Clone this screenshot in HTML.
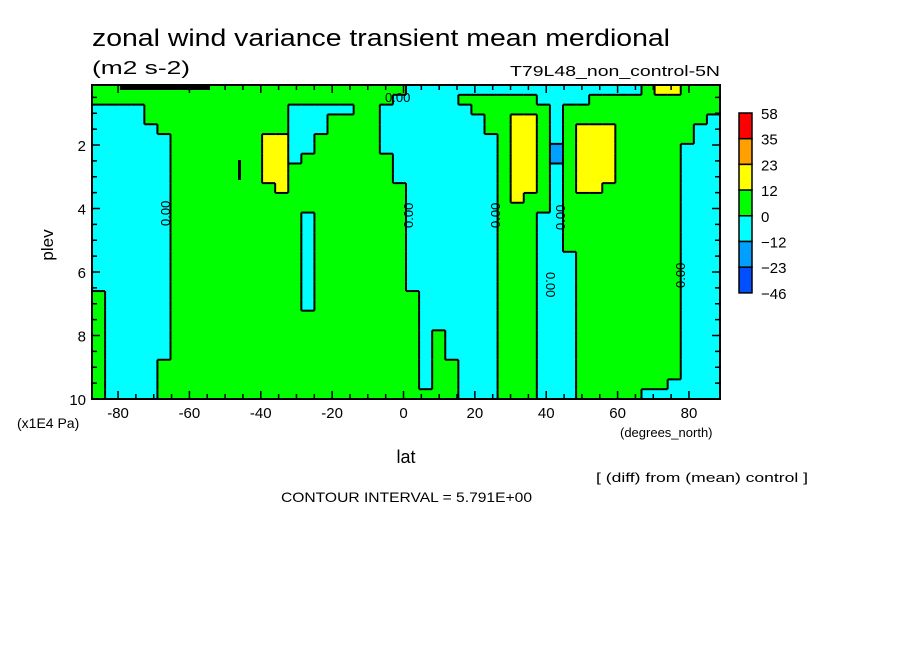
<!DOCTYPE html>
<html><head><meta charset="utf-8"><style>
html,body{margin:0;padding:0;background:#fff;}
svg{display:block;font-family:"Liberation Sans",sans-serif;}
</style></head><body>
<svg id="chart" width="904" height="654" viewBox="0 0 904 654" xmlns="http://www.w3.org/2000/svg">
<rect width="904" height="654" fill="#fff"/>
<text x="92" y="46" font-size="24" textLength="578" lengthAdjust="spacingAndGlyphs">zonal wind variance transient mean merdional</text>
<text x="92" y="74" font-size="18" textLength="98" lengthAdjust="spacingAndGlyphs">(m2 s-2)</text>
<text x="510" y="76" font-size="15" textLength="210" lengthAdjust="spacingAndGlyphs">T79L48_non_control-5N</text>
<g id="cells"></g>
<g id="edges"></g>
<g id="ticks"></g>
<rect x="92" y="85" width="628" height="314" fill="none" stroke="#000" stroke-width="2"/>
<rect x="120" y="86" width="90" height="4" fill="#000"/>
<rect x="238" y="160" width="3" height="20" fill="#000"/>
<g font-size="13">
<text x="385" y="102">0.00</text>
<text x="170" y="226" transform="rotate(-90 170 226)">0.00</text>
<text x="413" y="228" transform="rotate(-90 413 228)">0.00</text>
<text x="500" y="228" transform="rotate(-90 500 228)">0.00</text>
<text x="546" y="272" transform="rotate(90 546 272)">0.00</text>
<text x="565" y="230" transform="rotate(-90 565 230)">0.00</text>
<text x="685" y="288" transform="rotate(-90 685 288)">0.00</text>
</g>
<g id="yticklabels" font-size="15" text-anchor="end"></g>
<g id="xticklabels" font-size="15" text-anchor="middle"></g>
<text x="53" y="245" font-size="17" text-anchor="middle" transform="rotate(-90 53 245)">plev</text>
<text x="17" y="428" font-size="14">(x1E4 Pa)</text>
<text x="406" y="463" font-size="18" text-anchor="middle">lat</text>
<text x="620" y="437" font-size="13">(degrees_north)</text>
<text x="596" y="482" font-size="13" textLength="212" lengthAdjust="spacingAndGlyphs">[ (diff) from (mean) control ]</text>
<text x="281" y="502" font-size="14" textLength="251" lengthAdjust="spacingAndGlyphs">CONTOUR INTERVAL = 5.791E+00</text>
<g id="legend"></g>
</svg>
<script>
// legend levels and colors
const legendLabels = ["58","35","23","12","0","-12","-23","-46"];
const legendColors = ["#ff0000","#ffa000","#ffff00","#00ff00","#00ffff","#00a0ff","#0050ff"];
// category -> color (c: -12..0, g: 0..12, y: 12..23, b: -23..-12)
const categoryColors = {c:"#00ffff", g:"#00ff00", y:"#ffff00", b:"#00a0ff"};
// grid extent (lat, plev)
const latRange = [-87.3, 88.7];
const plevRange = [0.11, 10];
const xTicks = [-80,-60,-40,-20,0,20,40,60,80];
const yTicks = [2,4,6,8,10];
// category grid rows (top = low plev), 48 lat columns
const gridRows = [
"ggggggggggggggggggggggggccccccccccccccccccgyyggg",
"gggggggggggggggggggggggcccccggggggccccgggggggggg",
"ccccgggggggggggcccccggcccccccggggggcgggggggggggg",
"ccccgggggggggggcccggggccccccccggyygcgggggggggggc",
"cccccggggggggggcccggggccccccccggyygcgyyyggggggcc",
"ccccccgggggggyyccgggggcccccccccgyygcgyyyggggggcc",
"ccccccgggggggyyccgggggcccccccccgyygbgyyygggggccc",
"ccccccgggggggyycgggggggccccccccgyygbgyyygggggccc",
"ccccccgggggggyyggggggggccccccccgyygcgyyygggggccc",
"ccccccgggggggyyggggggggccccccccgyygcgyyygggggccc",
"ccccccggggggggygggggggggcccccccgyygcgyyggggggccc",
"ccccccggggggggggggggggggcccccccgyggcgggggggggccc",
"ccccccggggggggggggggggggcccccccggggcgggggggggccc",
"ccccccggggggggggcgggggggcccccccgggccgggggggggccc",
"ccccccggggggggggcgggggggcccccccgggccgggggggggccc",
"ccccccggggggggggcgggggggcccccccgggccgggggggggccc",
"ccccccggggggggggcgggggggcccccccgggccgggggggggccc",
"ccccccggggggggggcgggggggcccccccgggcccggggggggccc",
"ccccccggggggggggcgggggggcccccccgggcccggggggggccc",
"ccccccggggggggggcgggggggcccccccgggcccggggggggccc",
"ccccccggggggggggcgggggggcccccccgggcccggggggggccc",
"gcccccggggggggggcggggggggccccccgggcccggggggggccc",
"gcccccggggggggggcggggggggccccccgggcccggggggggccc",
"gcccccgggggggggggggggggggccccccgggcccggggggggccc",
"gcccccgggggggggggggggggggccccccgggcccggggggggccc",
"gcccccgggggggggggggggggggcgccccgggcccggggggggccc",
"gcccccgggggggggggggggggggcgccccgggcccggggggggccc",
"gcccccgggggggggggggggggggcgccccgggcccggggggggccc",
"gccccggggggggggggggggggggcggcccgggcccggggggggccc",
"gccccggggggggggggggggggggcggcccgggcccggggggggccc",
"gccccggggggggggggggggggggcggcccgggcccgggggggcccc",
"gccccgggggggggggggggggggggggcccgggcccgggggcccccc"
];

const NS="http://www.w3.org/2000/svg";
const X0=92,X1=720,Y0=85,Y1=399;
function xScale(lat){return X0+(lat-latRange[0])/(latRange[1]-latRange[0])*(X1-X0);}
function yScale(p){return Y0+(p-plevRange[0])/(plevRange[1]-plevRange[0])*(Y1-Y0);}
function mk(tag,attrs,parent){const e=document.createElementNS(NS,tag);for(const k in attrs)e.setAttribute(k,attrs[k]);parent.appendChild(e);return e;}

const nRows=gridRows.length, nCols=gridRows[0].length;
const dLat=(latRange[1]-latRange[0])/nCols, dP=(plevRange[1]-plevRange[0])/nRows;
const cells=document.getElementById('cells');
for(let j=0;j<nRows;j++){
  for(let i=0;i<nCols;i++){
    const ch=gridRows[j][i]||'g';
    const xa=xScale(latRange[0]+i*dLat), xb=xScale(latRange[0]+(i+1)*dLat);
    const ya=yScale(plevRange[0]+j*dP), yb=yScale(plevRange[0]+(j+1)*dP);
    const r=mk('rect',{x:xa.toFixed(2),y:ya.toFixed(2),width:(xb-xa+0.6).toFixed(2),height:(yb-ya+0.6).toFixed(2),fill:categoryColors[ch]},cells);
    
    
  }
}
const edges=document.getElementById('edges');
for(let j=0;j<nRows;j++){
  for(let i=0;i<nCols;i++){
    const ch=gridRows[j][i];
    const xa=xScale(latRange[0]+i*dLat), xb=xScale(latRange[0]+(i+1)*dLat);
    const ya=yScale(plevRange[0]+j*dP), yb=yScale(plevRange[0]+(j+1)*dP);
    if(i+1<nCols && gridRows[j][i+1]!==ch){
      const l=mk('line',{x1:xb,y1:ya,x2:xb,y2:yb,stroke:'#000','stroke-width':2},edges);
      
      
    }
    if(j+1<nRows && gridRows[j+1][i]!==ch){
      const l=mk('line',{x1:xa,y1:yb,x2:xb,y2:yb,stroke:'#000','stroke-width':2},edges);
      
      
    }
  }
}
const ticks=document.getElementById('ticks');
const xt=document.getElementById('xticklabels');
for(let lat=-80;lat<=80;lat+=5){
  const x=xScale(lat), big=(lat%20===0);
  const t=mk('line',{x1:x,y1:Y1,x2:x,y2:Y1-(big?8:5),stroke:'#000','stroke-width':1.5},ticks);
  
  
  const t2=mk('line',{x1:x,y1:Y0,x2:x,y2:Y0+(big?8:5),stroke:'#000','stroke-width':1.5},ticks);
  
  
}
xTicks.forEach(v=>{
  const t=mk('text',{x:xScale(v),y:418},xt);
  t.textContent=v;
  
  
});
for(let p=0.5;p<=10;p+=0.5){
  const y=yScale(p), big=(p%2===0);
  const t=mk('line',{x1:X0,y1:y,x2:X0+(big?8:5),y2:y,stroke:'#000','stroke-width':1.5},ticks);
  
  
  const t2=mk('line',{x1:X1,y1:y,x2:X1-(big?8:5),y2:y,stroke:'#000','stroke-width':1.5},ticks);
  
  
}
const yt=document.getElementById('yticklabels');
yTicks.forEach(v=>{
  const t=mk('text',{x:86,y:yScale(v)+6},yt);
  t.textContent=v;
  
  
});
const lg=document.getElementById('legend');
const LY0=113, LH=25.7;
legendColors.forEach((c,k)=>{
  const r=mk('rect',{x:739,y:LY0+k*LH,width:13,height:LH,fill:c,stroke:'#000','stroke-width':1.5},lg);
  
  
});
legendLabels.forEach((s,k)=>{
  const t=mk('text',{x:761,y:LY0+k*LH+6,'font-size':15},lg);
  t.textContent=s.replace('-','\u2212');
  
  
});
</script>
</body></html>
